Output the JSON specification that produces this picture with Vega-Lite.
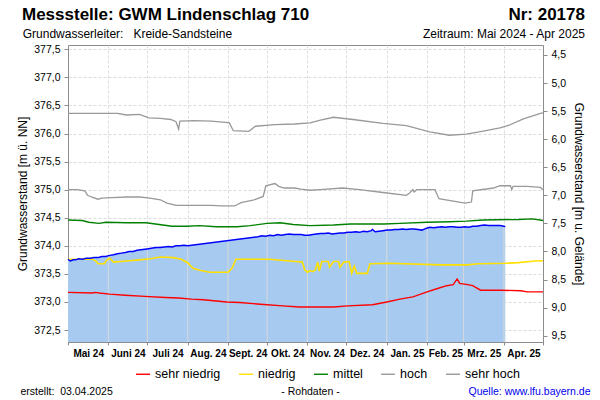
{
  "$schema": "https://vega.github.io/schema/vega-lite/v6.json",
  "width": 475,
  "height": 297,
  "autosize": {"type": "none"},
  "padding": {"left": 68, "top": 45, "right": 57, "bottom": 58},
  "config": {
    "font": "Liberation Sans",
    "view": {"stroke": "#8c8c8c", "strokeWidth": 1},
    "line": {"strokeWidth": 1.4},
    "axis": {
      "domainColor": "#8c8c8c",
      "tickColor": "#8c8c8c",
      "labelColor": "#000000",
      "titleColor": "#000000",
      "labelFont": "Liberation Sans",
      "titleFont": "Liberation Sans",
      "gridColor": "#dcdcdc",
      "gridDash": [3, 2]
    }
  },
  "datasets": {
    "pegel": [
      {"d": "2024-05-01", "w": 373.76}, {"d": "2024-05-02", "w": 373.74}, {"d": "2024-05-03", "w": 373.73},
      {"d": "2024-05-05", "w": 373.75}, {"d": "2024-05-07", "w": 373.75}, {"d": "2024-05-09", "w": 373.77},
      {"d": "2024-05-12", "w": 373.76}, {"d": "2024-05-15", "w": 373.78}, {"d": "2024-05-18", "w": 373.78},
      {"d": "2024-05-21", "w": 373.79}, {"d": "2024-05-24", "w": 373.79}, {"d": "2024-05-27", "w": 373.81},
      {"d": "2024-05-30", "w": 373.81}, {"d": "2024-06-02", "w": 373.83}, {"d": "2024-06-05", "w": 373.84},
      {"d": "2024-06-08", "w": 373.86}, {"d": "2024-06-11", "w": 373.87}, {"d": "2024-06-14", "w": 373.88},
      {"d": "2024-06-17", "w": 373.90}, {"d": "2024-06-20", "w": 373.90}, {"d": "2024-06-23", "w": 373.92},
      {"d": "2024-06-26", "w": 373.93}, {"d": "2024-06-29", "w": 373.94}, {"d": "2024-07-02", "w": 373.95},
      {"d": "2024-07-05", "w": 373.96}, {"d": "2024-07-08", "w": 373.97}, {"d": "2024-07-11", "w": 373.97},
      {"d": "2024-07-14", "w": 373.98}, {"d": "2024-07-17", "w": 373.99}, {"d": "2024-07-20", "w": 373.98},
      {"d": "2024-07-23", "w": 374.00}, {"d": "2024-07-26", "w": 374.00}, {"d": "2024-07-29", "w": 374.01},
      {"d": "2024-08-01", "w": 374.00},
      {"d": "2024-09-24", "w": 374.16}, {"d": "2024-09-27", "w": 374.18}, {"d": "2024-09-30", "w": 374.17},
      {"d": "2024-10-03", "w": 374.19}, {"d": "2024-10-06", "w": 374.18}, {"d": "2024-10-09", "w": 374.20},
      {"d": "2024-10-12", "w": 374.19}, {"d": "2024-10-15", "w": 374.20}, {"d": "2024-10-18", "w": 374.21},
      {"d": "2024-10-21", "w": 374.20}, {"d": "2024-10-24", "w": 374.20}, {"d": "2024-10-27", "w": 374.20},
      {"d": "2024-10-30", "w": 374.19}, {"d": "2024-11-02", "w": 374.19}, {"d": "2024-11-05", "w": 374.20},
      {"d": "2024-11-08", "w": 374.21}, {"d": "2024-11-11", "w": 374.22}, {"d": "2024-11-14", "w": 374.22},
      {"d": "2024-11-17", "w": 374.23}, {"d": "2024-11-20", "w": 374.21}, {"d": "2024-11-23", "w": 374.22},
      {"d": "2024-11-26", "w": 374.23}, {"d": "2024-11-29", "w": 374.23}, {"d": "2024-12-02", "w": 374.24},
      {"d": "2024-12-05", "w": 374.24}, {"d": "2024-12-08", "w": 374.25}, {"d": "2024-12-11", "w": 374.24},
      {"d": "2024-12-14", "w": 374.26}, {"d": "2024-12-17", "w": 374.25}, {"d": "2024-12-20", "w": 374.27},
      {"d": "2024-12-21", "w": 374.29}, {"d": "2024-12-23", "w": 374.25}, {"d": "2024-12-26", "w": 374.26},
      {"d": "2024-12-29", "w": 374.27}, {"d": "2025-01-01", "w": 374.28}, {"d": "2025-01-04", "w": 374.28},
      {"d": "2025-01-07", "w": 374.29}, {"d": "2025-01-10", "w": 374.29}, {"d": "2025-01-13", "w": 374.30},
      {"d": "2025-01-16", "w": 374.29}, {"d": "2025-01-19", "w": 374.30}, {"d": "2025-01-22", "w": 374.30},
      {"d": "2025-01-25", "w": 374.29}, {"d": "2025-01-28", "w": 374.28}, {"d": "2025-01-31", "w": 374.31},
      {"d": "2025-02-03", "w": 374.33}, {"d": "2025-02-06", "w": 374.32}, {"d": "2025-02-09", "w": 374.33},
      {"d": "2025-02-12", "w": 374.34}, {"d": "2025-02-15", "w": 374.33}, {"d": "2025-02-18", "w": 374.34},
      {"d": "2025-02-21", "w": 374.34}, {"d": "2025-02-24", "w": 374.33}, {"d": "2025-02-27", "w": 374.33},
      {"d": "2025-03-02", "w": 374.34}, {"d": "2025-03-05", "w": 374.33}, {"d": "2025-03-08", "w": 374.35},
      {"d": "2025-03-11", "w": 374.35}, {"d": "2025-03-14", "w": 374.36}, {"d": "2025-03-17", "w": 374.37},
      {"d": "2025-03-20", "w": 374.36}, {"d": "2025-03-23", "w": 374.36}, {"d": "2025-03-26", "w": 374.36},
      {"d": "2025-03-29", "w": 374.36}, {"d": "2025-04-01", "w": 374.35}, {"d": "2025-04-02", "w": 374.34}
    ],
    "grenzen": [
      {"d": "2024-06-01", "w": 373.82}, {"d": "2024-07-01", "w": 373.95}, {"d": "2024-08-01", "w": 374.00},
      {"d": "2024-09-01", "w": 374.08}, {"d": "2024-10-01", "w": 374.18}, {"d": "2024-11-01", "w": 374.19},
      {"d": "2024-12-01", "w": 374.24}, {"d": "2025-01-01", "w": 374.28}, {"d": "2025-02-01", "w": 374.32},
      {"d": "2025-03-01", "w": 374.34}, {"d": "2025-04-01", "w": 374.35}
    ],
    "perz": [
      {"d": "2024-05-01", "k": "sehr niedrig", "w": 373.17}, {"d": "2024-05-20", "k": "sehr niedrig", "w": 373.16},
      {"d": "2024-05-22", "k": "sehr niedrig", "w": 373.17}, {"d": "2024-05-25", "k": "sehr niedrig", "w": 373.16},
      {"d": "2024-06-02", "k": "sehr niedrig", "w": 373.14}, {"d": "2024-06-14", "k": "sehr niedrig", "w": 373.12},
      {"d": "2024-06-29", "k": "sehr niedrig", "w": 373.10}, {"d": "2024-07-15", "k": "sehr niedrig", "w": 373.08},
      {"d": "2024-07-25", "k": "sehr niedrig", "w": 373.07}, {"d": "2024-08-04", "k": "sehr niedrig", "w": 373.05},
      {"d": "2024-08-13", "k": "sehr niedrig", "w": 373.04}, {"d": "2024-08-31", "k": "sehr niedrig", "w": 373.00},
      {"d": "2024-09-10", "k": "sehr niedrig", "w": 372.99}, {"d": "2024-09-26", "k": "sehr niedrig", "w": 372.96},
      {"d": "2024-10-13", "k": "sehr niedrig", "w": 372.93}, {"d": "2024-10-26", "k": "sehr niedrig", "w": 372.91},
      {"d": "2024-11-21", "k": "sehr niedrig", "w": 372.91}, {"d": "2024-12-02", "k": "sehr niedrig", "w": 372.93},
      {"d": "2024-12-21", "k": "sehr niedrig", "w": 372.95}, {"d": "2025-01-01", "k": "sehr niedrig", "w": 373.00},
      {"d": "2025-01-11", "k": "sehr niedrig", "w": 373.05}, {"d": "2025-01-21", "k": "sehr niedrig", "w": 373.09},
      {"d": "2025-02-01", "k": "sehr niedrig", "w": 373.18}, {"d": "2025-02-09", "k": "sehr niedrig", "w": 373.24},
      {"d": "2025-02-16", "k": "sehr niedrig", "w": 373.29}, {"d": "2025-02-21", "k": "sehr niedrig", "w": 373.31},
      {"d": "2025-02-24", "k": "sehr niedrig", "w": 373.41}, {"d": "2025-02-26", "k": "sehr niedrig", "w": 373.33},
      {"d": "2025-03-04", "k": "sehr niedrig", "w": 373.31}, {"d": "2025-03-08", "k": "sehr niedrig", "w": 373.29},
      {"d": "2025-03-14", "k": "sehr niedrig", "w": 373.21}, {"d": "2025-03-29", "k": "sehr niedrig", "w": 373.21},
      {"d": "2025-04-14", "k": "sehr niedrig", "w": 373.20}, {"d": "2025-04-19", "k": "sehr niedrig", "w": 373.18},
      {"d": "2025-05-01", "k": "sehr niedrig", "w": 373.18},

      {"d": "2024-05-01", "k": "niedrig", "w": 373.76}, {"d": "2024-05-20", "k": "niedrig", "w": 373.76},
      {"d": "2024-05-23", "k": "niedrig", "w": 373.72}, {"d": "2024-05-24", "k": "niedrig", "w": 373.68},
      {"d": "2024-05-29", "k": "niedrig", "w": 373.68}, {"d": "2024-05-31", "k": "niedrig", "w": 373.75},
      {"d": "2024-06-02", "k": "niedrig", "w": 373.78}, {"d": "2024-06-05", "k": "niedrig", "w": 373.71},
      {"d": "2024-06-15", "k": "niedrig", "w": 373.73}, {"d": "2024-06-25", "k": "niedrig", "w": 373.75},
      {"d": "2024-07-03", "k": "niedrig", "w": 373.77}, {"d": "2024-07-11", "k": "niedrig", "w": 373.80},
      {"d": "2024-07-21", "k": "niedrig", "w": 373.79}, {"d": "2024-07-27", "k": "niedrig", "w": 373.76},
      {"d": "2024-08-01", "k": "niedrig", "w": 373.70}, {"d": "2024-08-05", "k": "niedrig", "w": 373.60},
      {"d": "2024-08-11", "k": "niedrig", "w": 373.56}, {"d": "2024-08-18", "k": "niedrig", "w": 373.53},
      {"d": "2024-09-01", "k": "niedrig", "w": 373.53}, {"d": "2024-09-04", "k": "niedrig", "w": 373.60},
      {"d": "2024-09-07", "k": "niedrig", "w": 373.76}, {"d": "2024-10-03", "k": "niedrig", "w": 373.76},
      {"d": "2024-10-23", "k": "niedrig", "w": 373.72}, {"d": "2024-10-28", "k": "niedrig", "w": 373.71},
      {"d": "2024-10-30", "k": "niedrig", "w": 373.57}, {"d": "2024-11-01", "k": "niedrig", "w": 373.53},
      {"d": "2024-11-03", "k": "niedrig", "w": 373.56}, {"d": "2024-11-05", "k": "niedrig", "w": 373.54},
      {"d": "2024-11-07", "k": "niedrig", "w": 373.57}, {"d": "2024-11-09", "k": "niedrig", "w": 373.71},
      {"d": "2024-11-10", "k": "niedrig", "w": 373.55}, {"d": "2024-11-12", "k": "niedrig", "w": 373.72},
      {"d": "2024-11-17", "k": "niedrig", "w": 373.72}, {"d": "2024-11-18", "k": "niedrig", "w": 373.62},
      {"d": "2024-11-21", "k": "niedrig", "w": 373.72}, {"d": "2024-11-25", "k": "niedrig", "w": 373.72},
      {"d": "2024-11-26", "k": "niedrig", "w": 373.62}, {"d": "2024-11-29", "k": "niedrig", "w": 373.71},
      {"d": "2024-12-03", "k": "niedrig", "w": 373.72}, {"d": "2024-12-05", "k": "niedrig", "w": 373.51},
      {"d": "2024-12-07", "k": "niedrig", "w": 373.64}, {"d": "2024-12-09", "k": "niedrig", "w": 373.51},
      {"d": "2024-12-17", "k": "niedrig", "w": 373.51}, {"d": "2024-12-19", "k": "niedrig", "w": 373.68},
      {"d": "2025-01-03", "k": "niedrig", "w": 373.69}, {"d": "2025-02-11", "k": "niedrig", "w": 373.66},
      {"d": "2025-03-04", "k": "niedrig", "w": 373.66}, {"d": "2025-03-12", "k": "niedrig", "w": 373.68},
      {"d": "2025-04-02", "k": "niedrig", "w": 373.69}, {"d": "2025-04-12", "k": "niedrig", "w": 373.70},
      {"d": "2025-04-25", "k": "niedrig", "w": 373.73}, {"d": "2025-05-01", "k": "niedrig", "w": 373.735},

      {"d": "2024-05-01", "k": "mittel", "w": 374.46}, {"d": "2024-05-12", "k": "mittel", "w": 374.45},
      {"d": "2024-05-17", "k": "mittel", "w": 374.42}, {"d": "2024-05-25", "k": "mittel", "w": 374.40},
      {"d": "2024-05-30", "k": "mittel", "w": 374.42}, {"d": "2024-06-15", "k": "mittel", "w": 374.41},
      {"d": "2024-06-30", "k": "mittel", "w": 374.41}, {"d": "2024-07-10", "k": "mittel", "w": 374.38},
      {"d": "2024-07-20", "k": "mittel", "w": 374.35}, {"d": "2024-07-31", "k": "mittel", "w": 374.35},
      {"d": "2024-08-10", "k": "mittel", "w": 374.36}, {"d": "2024-08-23", "k": "mittel", "w": 374.34},
      {"d": "2024-09-08", "k": "mittel", "w": 374.34}, {"d": "2024-09-18", "k": "mittel", "w": 374.36},
      {"d": "2024-10-01", "k": "mittel", "w": 374.40}, {"d": "2024-10-11", "k": "mittel", "w": 374.41},
      {"d": "2024-10-21", "k": "mittel", "w": 374.38}, {"d": "2024-11-03", "k": "mittel", "w": 374.36},
      {"d": "2024-11-21", "k": "mittel", "w": 374.37}, {"d": "2024-12-04", "k": "mittel", "w": 374.39},
      {"d": "2024-12-30", "k": "mittel", "w": 374.39}, {"d": "2025-01-11", "k": "mittel", "w": 374.40},
      {"d": "2025-02-01", "k": "mittel", "w": 374.42}, {"d": "2025-02-18", "k": "mittel", "w": 374.43},
      {"d": "2025-03-03", "k": "mittel", "w": 374.44}, {"d": "2025-03-16", "k": "mittel", "w": 374.46},
      {"d": "2025-04-12", "k": "mittel", "w": 374.47}, {"d": "2025-04-23", "k": "mittel", "w": 374.48},
      {"d": "2025-05-01", "k": "mittel", "w": 374.45},

      {"d": "2024-05-01", "k": "hoch", "w": 375.00}, {"d": "2024-05-08", "k": "hoch", "w": 375.00},
      {"d": "2024-05-14", "k": "hoch", "w": 374.98}, {"d": "2024-05-16", "k": "hoch", "w": 374.90},
      {"d": "2024-05-19", "k": "hoch", "w": 374.87}, {"d": "2024-05-24", "k": "hoch", "w": 374.83},
      {"d": "2024-05-27", "k": "hoch", "w": 374.85}, {"d": "2024-06-04", "k": "hoch", "w": 374.86},
      {"d": "2024-06-15", "k": "hoch", "w": 374.87}, {"d": "2024-06-25", "k": "hoch", "w": 374.87},
      {"d": "2024-07-03", "k": "hoch", "w": 374.85}, {"d": "2024-07-11", "k": "hoch", "w": 374.82},
      {"d": "2024-07-16", "k": "hoch", "w": 374.76}, {"d": "2024-07-23", "k": "hoch", "w": 374.72},
      {"d": "2024-08-06", "k": "hoch", "w": 374.72}, {"d": "2024-08-19", "k": "hoch", "w": 374.72},
      {"d": "2024-08-27", "k": "hoch", "w": 374.71}, {"d": "2024-09-06", "k": "hoch", "w": 374.71},
      {"d": "2024-09-11", "k": "hoch", "w": 374.77}, {"d": "2024-09-21", "k": "hoch", "w": 374.82},
      {"d": "2024-09-28", "k": "hoch", "w": 374.88}, {"d": "2024-09-30", "k": "hoch", "w": 375.07},
      {"d": "2024-10-07", "k": "hoch", "w": 375.11}, {"d": "2024-10-10", "k": "hoch", "w": 375.06},
      {"d": "2024-10-14", "k": "hoch", "w": 375.03}, {"d": "2024-10-22", "k": "hoch", "w": 375.03},
      {"d": "2024-10-27", "k": "hoch", "w": 375.01}, {"d": "2024-11-03", "k": "hoch", "w": 374.99},
      {"d": "2024-11-11", "k": "hoch", "w": 375.00}, {"d": "2024-11-28", "k": "hoch", "w": 375.03},
      {"d": "2024-12-11", "k": "hoch", "w": 375.00}, {"d": "2024-12-29", "k": "hoch", "w": 374.95},
      {"d": "2025-01-16", "k": "hoch", "w": 374.90}, {"d": "2025-01-18", "k": "hoch", "w": 374.93},
      {"d": "2025-01-21", "k": "hoch", "w": 375.00}, {"d": "2025-01-22", "k": "hoch", "w": 374.96},
      {"d": "2025-01-24", "k": "hoch", "w": 375.00}, {"d": "2025-02-07", "k": "hoch", "w": 375.00},
      {"d": "2025-02-10", "k": "hoch", "w": 374.84}, {"d": "2025-02-20", "k": "hoch", "w": 374.80},
      {"d": "2025-03-02", "k": "hoch", "w": 374.76}, {"d": "2025-03-07", "k": "hoch", "w": 374.78},
      {"d": "2025-03-08", "k": "hoch", "w": 374.98}, {"d": "2025-03-24", "k": "hoch", "w": 375.03},
      {"d": "2025-03-29", "k": "hoch", "w": 375.07}, {"d": "2025-04-06", "k": "hoch", "w": 375.07},
      {"d": "2025-04-07", "k": "hoch", "w": 375.00}, {"d": "2025-04-08", "k": "hoch", "w": 375.06},
      {"d": "2025-04-19", "k": "hoch", "w": 375.06}, {"d": "2025-04-29", "k": "hoch", "w": 375.04},
      {"d": "2025-05-01", "k": "hoch", "w": 375.00},

      {"d": "2024-05-01", "k": "sehr hoch", "w": 376.36}, {"d": "2024-06-08", "k": "sehr hoch", "w": 376.36},
      {"d": "2024-06-15", "k": "sehr hoch", "w": 376.33}, {"d": "2024-06-25", "k": "sehr hoch", "w": 376.34},
      {"d": "2024-07-02", "k": "sehr hoch", "w": 376.28}, {"d": "2024-07-11", "k": "sehr hoch", "w": 376.27},
      {"d": "2024-07-19", "k": "sehr hoch", "w": 376.25}, {"d": "2024-07-23", "k": "sehr hoch", "w": 376.21},
      {"d": "2024-07-25", "k": "sehr hoch", "w": 376.08}, {"d": "2024-07-26", "k": "sehr hoch", "w": 376.22},
      {"d": "2024-08-06", "k": "sehr hoch", "w": 376.23}, {"d": "2024-08-19", "k": "sehr hoch", "w": 376.22},
      {"d": "2024-08-30", "k": "sehr hoch", "w": 376.20}, {"d": "2024-09-02", "k": "sehr hoch", "w": 376.19},
      {"d": "2024-09-05", "k": "sehr hoch", "w": 376.05}, {"d": "2024-09-17", "k": "sehr hoch", "w": 376.04},
      {"d": "2024-09-22", "k": "sehr hoch", "w": 376.13}, {"d": "2024-10-07", "k": "sehr hoch", "w": 376.16},
      {"d": "2024-10-22", "k": "sehr hoch", "w": 376.17}, {"d": "2024-11-03", "k": "sehr hoch", "w": 376.19},
      {"d": "2024-11-11", "k": "sehr hoch", "w": 376.24}, {"d": "2024-11-21", "k": "sehr hoch", "w": 376.29},
      {"d": "2024-12-06", "k": "sehr hoch", "w": 376.25}, {"d": "2024-12-29", "k": "sehr hoch", "w": 376.18},
      {"d": "2025-01-16", "k": "sehr hoch", "w": 376.14}, {"d": "2025-02-03", "k": "sehr hoch", "w": 376.03},
      {"d": "2025-02-18", "k": "sehr hoch", "w": 375.97}, {"d": "2025-03-03", "k": "sehr hoch", "w": 375.99},
      {"d": "2025-03-13", "k": "sehr hoch", "w": 376.03}, {"d": "2025-03-29", "k": "sehr hoch", "w": 376.10},
      {"d": "2025-04-04", "k": "sehr hoch", "w": 376.14}, {"d": "2025-04-16", "k": "sehr hoch", "w": 376.26},
      {"d": "2025-04-29", "k": "sehr hoch", "w": 376.36}, {"d": "2025-05-01", "k": "sehr hoch", "w": 376.37}
    ]
  },
  "layer": [
    {
      "data": {"name": "pegel"},
      "mark": {"type": "area", "color": "#a6caf0", "clip": true},
      "encoding": {
        "x": {
          "field": "d", "type": "temporal",
          "scale": {"type": "utc", "domain": [{"year": 2024, "month": 5, "date": 1, "utc": true}, {"year": 2025, "month": 5, "date": 1, "utc": true}], "nice": false},
          "axis": {
            "orient": "bottom", "domain": false, "ticks": false, "tickSize": 0, "grid": false,
            "values": [
              {"year": 2024, "month": 5, "date": 16, "hours": 12, "utc": true},
              {"year": 2024, "month": 6, "date": 16, "utc": true},
              {"year": 2024, "month": 7, "date": 16, "hours": 12, "utc": true},
              {"year": 2024, "month": 8, "date": 16, "hours": 12, "utc": true},
              {"year": 2024, "month": 9, "date": 16, "utc": true},
              {"year": 2024, "month": 10, "date": 16, "hours": 12, "utc": true},
              {"year": 2024, "month": 11, "date": 16, "utc": true},
              {"year": 2024, "month": 12, "date": 16, "hours": 12, "utc": true},
              {"year": 2025, "month": 1, "date": 16, "hours": 12, "utc": true},
              {"year": 2025, "month": 2, "date": 15, "utc": true},
              {"year": 2025, "month": 3, "date": 16, "hours": 12, "utc": true},
              {"year": 2025, "month": 4, "date": 16, "utc": true}
            ],
            "labelExpr": "['Jan.','Feb.','Mrz.','Apr.','Mai','Juni','Juli','Aug.','Sept.','Okt.','Nov.','Dez.'][utcmonth(datum.value)] + ' ' + utcFormat(datum.value, '%y')",
            "labelFontSize": 10, "labelFontWeight": "bold", "labelPadding": 6,
            "labelOverlap": false, "labelFlush": false,
            "title": "erstellt:\u00a0\u00a003.04.2025",
            "titleX": -48, "titleY": 52, "titleAlign": "left", "titleBaseline": "alphabetic",
            "titleAngle": 0, "titleFontSize": 10.5, "titleFontWeight": "normal"
          }
        },
        "y": {
          "field": "w", "type": "quantitative",
          "scale": {"domain": [372.287, 377.577], "zero": false, "nice": false},
          "axis": {
            "orient": "left",
            "title": "Grundwasserstand [m ü. NN]",
            "values": [372.5, 373, 373.5, 374, 374.5, 375, 375.5, 376, 376.5, 377, 377.5],
            "labelExpr": "replace(format(datum.value, '.1f'), '.', ',')",
            "tickSize": 4, "labelPadding": 4, "labelFontSize": 10.5, "grid": true,
            "titleX": -46, "titleY": 148.5, "titleAngle": -90, "titleAlign": "center",
            "titleBaseline": "middle", "titleFontSize": 12, "titleFontWeight": "normal"
          }
        },
        "y2": {"datum": 372.287}
      }
    },
    {
      "data": {"name": "grenzen"},
      "mark": {"type": "rule", "color": "#d9d9d9", "strokeWidth": 1},
      "encoding": {
        "x": {
          "field": "d", "type": "temporal",
          "scale": {"type": "utc", "domain": [{"year": 2024, "month": 5, "date": 1, "utc": true}, {"year": 2025, "month": 5, "date": 1, "utc": true}], "nice": false},
          "axis": {
            "orient": "bottom", "domain": true, "ticks": true, "tickSize": 3, "labels": false, "grid": true,
            "values": [
              {"year": 2024, "month": 5, "date": 1, "utc": true},
              {"year": 2024, "month": 6, "date": 1, "utc": true},
              {"year": 2024, "month": 7, "date": 1, "utc": true},
              {"year": 2024, "month": 8, "date": 1, "utc": true},
              {"year": 2024, "month": 9, "date": 1, "utc": true},
              {"year": 2024, "month": 10, "date": 1, "utc": true},
              {"year": 2024, "month": 11, "date": 1, "utc": true},
              {"year": 2024, "month": 12, "date": 1, "utc": true},
              {"year": 2025, "month": 1, "date": 1, "utc": true},
              {"year": 2025, "month": 2, "date": 1, "utc": true},
              {"year": 2025, "month": 3, "date": 1, "utc": true},
              {"year": 2025, "month": 4, "date": 1, "utc": true},
              {"year": 2025, "month": 5, "date": 1, "utc": true}
            ],
            "title": "- Rohdaten -",
            "titleX": 242, "titleY": 52, "titleAlign": "center", "titleBaseline": "alphabetic",
            "titleAngle": 0, "titleFontSize": 10.5, "titleFontWeight": "normal"
          }
        },
        "y": {"field": "w", "type": "quantitative", "scale": {"domain": [372.287, 377.577], "zero": false, "nice": false}, "axis": null},
        "y2": {"datum": 372.287}
      }
    },
    {
      "data": {"name": "perz"},
      "transform": [{"filter": {"field": "k", "equal": "sehr niedrig"}}],
      "mark": {"type": "line", "strokeWidth": 1.4},
      "encoding": {
        "x": {
          "field": "d", "type": "temporal",
          "scale": {"type": "utc", "domain": [{"year": 2024, "month": 5, "date": 1, "utc": true}, {"year": 2025, "month": 5, "date": 1, "utc": true}], "nice": false},
          "axis": {
            "orient": "bottom", "domain": false, "ticks": false, "labels": false, "grid": false,
            "title": "Quelle: www.lfu.bayern.de",
            "titleX": 522, "titleY": 52, "titleAlign": "right", "titleBaseline": "alphabetic",
            "titleAngle": 0, "titleFontSize": 10.5, "titleFontWeight": "normal", "titleColor": "#0000ee"
          }
        },
        "y": {"field": "w", "type": "quantitative", "scale": {"domain": [372.287, 377.577], "zero": false, "nice": false}, "axis": null},
        "color": {
          "field": "k", "type": "nominal",
          "scale": {"domain": ["sehr niedrig", "niedrig", "mittel", "hoch", "sehr hoch"], "range": ["#ff0000", "#ffe000", "#008000", "#999999", "#999999"]},
          "legend": {
            "orient": "none", "legendX": 67, "legendY": 321, "direction": "horizontal", "title": null,
            "symbolType": "stroke", "symbolSize": 196, "symbolStrokeWidth": 1.5,
            "labelFontSize": 12.5, "labelOffset": 4, "columnPadding": 15, "labelColor": "#000000",
            "labelFont": "Liberation Sans"
          }
        }
      }
    },
    {
      "data": {"name": "perz"},
      "transform": [{"filter": {"field": "k", "equal": "niedrig"}}],
      "mark": {"type": "line", "strokeWidth": 1.6},
      "encoding": {
        "x": {
          "field": "d", "type": "temporal",
          "scale": {"type": "utc", "domain": [{"year": 2024, "month": 5, "date": 1, "utc": true}, {"year": 2025, "month": 5, "date": 1, "utc": true}], "nice": false},
          "axis": {
            "orient": "top", "domain": false, "ticks": false, "labels": false, "grid": false,
            "title": "Messstelle: GWM Lindenschlag 710",
            "titleX": -46.5, "titleY": -25.7, "titleAlign": "left", "titleBaseline": "alphabetic",
            "titleAngle": 0, "titleFontSize": 17, "titleFontWeight": "bold"
          }
        },
        "y": {"field": "w", "type": "quantitative", "scale": {"domain": [372.287, 377.577], "zero": false, "nice": false}, "axis": null},
        "color": {"field": "k", "type": "nominal", "legend": null}
      }
    },
    {
      "data": {"name": "perz"},
      "transform": [{"filter": {"field": "k", "equal": "mittel"}}],
      "mark": {"type": "line", "strokeWidth": 1.4},
      "encoding": {
        "x": {
          "field": "d", "type": "temporal",
          "scale": {"type": "utc", "domain": [{"year": 2024, "month": 5, "date": 1, "utc": true}, {"year": 2025, "month": 5, "date": 1, "utc": true}], "nice": false},
          "axis": {
            "orient": "top", "domain": false, "ticks": false, "labels": false, "grid": false,
            "title": "Grundwasserleiter:\u00a0\u00a0\u00a0Kreide-Sandsteine",
            "titleX": -45.8, "titleY": -7.7, "titleAlign": "left", "titleBaseline": "alphabetic",
            "titleAngle": 0, "titleFontSize": 12, "titleFontWeight": "normal"
          }
        },
        "y": {"field": "w", "type": "quantitative", "scale": {"domain": [372.287, 377.577], "zero": false, "nice": false}, "axis": null},
        "color": {"field": "k", "type": "nominal", "legend": null}
      }
    },
    {
      "data": {"name": "perz"},
      "transform": [{"filter": {"field": "k", "equal": "hoch"}}],
      "mark": {"type": "line", "strokeWidth": 1.3},
      "encoding": {
        "x": {
          "field": "d", "type": "temporal",
          "scale": {"type": "utc", "domain": [{"year": 2024, "month": 5, "date": 1, "utc": true}, {"year": 2025, "month": 5, "date": 1, "utc": true}], "nice": false},
          "axis": {
            "orient": "top", "domain": false, "ticks": false, "labels": false, "grid": false,
            "title": "Nr: 20178",
            "titleX": 516.5, "titleY": -25.7, "titleAlign": "right", "titleBaseline": "alphabetic",
            "titleAngle": 0, "titleFontSize": 17, "titleFontWeight": "bold"
          }
        },
        "y": {"field": "w", "type": "quantitative", "scale": {"domain": [372.287, 377.577], "zero": false, "nice": false}, "axis": null},
        "color": {"field": "k", "type": "nominal", "legend": null}
      }
    },
    {
      "data": {"name": "perz"},
      "transform": [{"filter": {"field": "k", "equal": "sehr hoch"}}],
      "mark": {"type": "line", "strokeWidth": 1.3},
      "encoding": {
        "x": {
          "field": "d", "type": "temporal",
          "scale": {"type": "utc", "domain": [{"year": 2024, "month": 5, "date": 1, "utc": true}, {"year": 2025, "month": 5, "date": 1, "utc": true}], "nice": false},
          "axis": {
            "orient": "top", "domain": false, "ticks": false, "labels": false, "grid": false,
            "title": "Zeitraum: Mai 2024 - Apr 2025",
            "titleX": 516.5, "titleY": -7.7, "titleAlign": "right", "titleBaseline": "alphabetic",
            "titleAngle": 0, "titleFontSize": 12, "titleFontWeight": "normal"
          }
        },
        "y": {"field": "w", "type": "quantitative", "scale": {"domain": [372.287, 377.577], "zero": false, "nice": false}, "axis": null},
        "color": {"field": "k", "type": "nominal", "legend": null}
      }
    },
    {
      "data": {"name": "pegel"},
      "mark": {"type": "line", "color": "#0000ff", "strokeWidth": 1.5},
      "encoding": {
        "x": {
          "field": "d", "type": "temporal",
          "scale": {"type": "utc", "domain": [{"year": 2024, "month": 5, "date": 1, "utc": true}, {"year": 2025, "month": 5, "date": 1, "utc": true}], "nice": false},
          "axis": null
        },
        "y": {
          "field": "w", "type": "quantitative",
          "scale": {"domain": [372.287, 377.577], "zero": false, "nice": false},
          "axis": {
            "orient": "right",
            "title": "Grundwasserstand [m u. Gelände]",
            "values": [377.4, 376.9, 376.4, 375.9, 375.4, 374.9, 374.4, 373.9, 373.4, 372.9, 372.4],
            "labelExpr": "replace(format(381.9 - datum.value, '.1f'), '.', ',')",
            "tickSize": 4, "labelPadding": 4, "labelFontSize": 10.5, "grid": false,
            "titleX": 35, "titleY": 148.5, "titleAngle": 90, "titleAlign": "center",
            "titleBaseline": "middle", "titleFontSize": 12, "titleFontWeight": "normal"
          }
        }
      }
    }
  ],
  "resolve": {"axis": {"x": "independent", "y": "independent"}}
}
